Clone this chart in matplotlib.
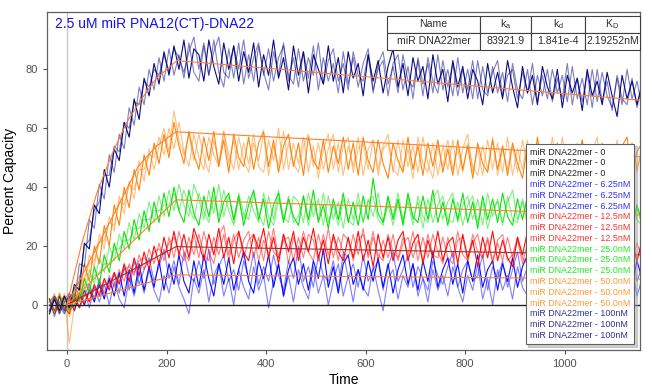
"""
Sensorgram of miR DNA22mer binding to 2.5 uM miR PNA12(C'T)-DNA22
"""

import numpy as np
import matplotlib.pyplot as plt
from matplotlib.lines import Line2D

plt.rcParams['font.family'] = ['Liberation Sans', 'DejaVu Sans']
plt.rcParams['mathtext.fontset'] = 'custom'
plt.rcParams['mathtext.rm'] = 'Liberation Sans'
plt.rcParams['mathtext.it'] = 'Liberation Sans'

# sampling times of the traces (s)
time = np.arange(-35, 1156, 10)

# 100nM replicates
conc_100_a = [-3, 2, -2, 3, -1, 7, 5, 21, 19, 34,
              31, 46, 40, 53, 49, 62, 57, 70, 63, 77,
              71, 82, 75, 86, 78, 88, 80, 90, 77, 87,
              85, 76, 90, 81, 75, 89, 80, 88, 76, 86,
              79, 89, 74, 85, 78, 90, 77, 84, 73, 88,
              78, 86, 72, 85, 80, 75, 88, 76, 84, 72,
              86, 77, 82, 71, 85, 76, 83, 72, 81, 87,
              74, 82, 71, 84, 76, 81, 70, 85, 75, 80,
              69, 83, 74, 81, 70, 80, 76, 68, 82, 72,
              79, 70, 83, 74, 67, 81, 72, 78, 68, 81,
              74, 70, 80, 67, 78, 72, 77, 66, 80, 71,
              76, 68, 79, 71, 64, 78, 70, 76, 68, 75]
conc_100_b = [2, -4, 3, -2, 4, 1, 14, 13, 29, 26,
              41, 36, 51, 45, 58, 53, 67, 61, 74, 68,
              80, 73, 84, 76, 87, 78, 85, 77, 89, 79,
              76, 88, 78, 90, 79, 74, 87, 77, 89, 75,
              85, 76, 88, 79, 73, 86, 78, 89, 76, 84,
              74, 86, 77, 88, 73, 84, 76, 82, 72, 86,
              75, 84, 74, 82, 87, 73, 80, 83, 71, 82,
              85, 73, 81, 70, 84, 75, 82, 72, 85, 73,
              80, 71, 84, 72, 80, 70, 83, 73, 71, 81,
              72, 79, 69, 82, 73, 70, 80, 68, 78, 71,
              80, 69, 77, 70, 82, 68, 77, 69, 79, 67,
              80, 69, 76, 66, 78, 70, 68, 77, 67, 75]
conc_100_c = [-2, 3, 0, -3, 2, 5, 8, 20, 22, 32,
              35, 44, 44, 54, 52, 62, 60, 69, 68, 76,
              74, 80, 78, 85, 79, 87, 84, 79, 86, 91,
              80, 89, 78, 86, 91, 79, 77, 88, 80, 90,
              77, 84, 89, 78, 87, 76, 84, 88, 78, 75,
              87, 76, 84, 78, 89, 75, 83, 87, 76, 82,
              73, 86, 78, 76, 85, 72, 82, 86, 75, 81,
              72, 85, 76, 74, 83, 71, 84, 76, 72, 83,
              74, 82, 71, 80, 73, 83, 70, 81, 72, 79,
              83, 71, 78, 80, 70, 79, 72, 82, 69, 78,
              70, 80, 72, 78, 69, 81, 70, 77, 68, 80,
              69, 79, 71, 67, 77, 68, 80, 70, 76, 67]

# 50nM replicates
conc_50_a = [2, -3, 4, -1, -2, 6, 3, 14, 8, 20,
             14, 27, 20, 34, 27, 40, 33, 46, 39, 51,
             44, 55, 48, 58, 50, 62, 54, 48, 59, 51,
             46, 57, 49, 59, 47, 56, 45, 58, 50, 47,
             57, 46, 55, 59, 47, 56, 45, 54, 58, 47,
             55, 44, 57, 49, 46, 56, 45, 54, 48, 57,
             46, 55, 44, 57, 49, 45, 56, 48, 43, 55,
             49, 45, 57, 46, 54, 44, 55, 47, 56, 45,
             53, 44, 56, 46, 54, 43, 55, 48, 45, 56,
             46, 54, 44, 55, 48, 43, 54, 45, 57, 46,
             53, 44, 55, 46, 43, 54, 47, 56, 45, 53,
             44, 55, 46, 53, 43, 54, 57, 45, 52, 55]
conc_50_b = [-3, 3, -1, 4, -4, 3, 10, 6, 17, 13,
             24, 19, 30, 25, 37, 31, 42, 36, 49, 42,
             53, 46, 54, 60, 52, 66, 56, 51, 58, 49,
             58, 50, 45, 56, 48, 59, 51, 46, 57, 49,
             45, 55, 49, 58, 44, 54, 47, 59, 46, 55,
             48, 57, 45, 54, 43, 53, 58, 46, 55, 44,
             54, 47, 57, 44, 53, 56, 46, 54, 58, 45,
             56, 46, 53, 43, 57, 48, 45, 55, 44, 54,
             46, 56, 44, 53, 58, 45, 53, 44, 56, 46,
             55, 45, 57, 44, 53, 46, 56, 43, 53, 48,
             45, 57, 46, 54, 44, 53, 45, 56, 43, 52,
             57, 45, 53, 44, 56, 47, 43, 55, 46, 53]
conc_50_c = [1, 4, -3, 2, -13, 0, 7, 9, 14, 15,
             21, 22, 28, 27, 35, 34, 41, 39, 46, 46,
             51, 50, 57, 51, 60, 53, 62, 52, 47, 58,
             50, 46, 57, 51, 47, 59, 48, 56, 46, 55,
             48, 58, 47, 45, 56, 49, 60, 46, 55, 48,
             45, 54, 58, 47, 55, 46, 53, 58, 45, 54,
             57, 45, 53, 55, 46, 56, 44, 53, 55, 46,
             44, 56, 47, 54, 45, 57, 48, 43, 54, 47,
             56, 46, 53, 45, 55, 47, 44, 54, 46, 57,
             44, 53, 46, 54, 45, 56, 47, 44, 55, 45,
             54, 47, 44, 57, 46, 45, 55, 44, 54, 46,
             52, 43, 54, 46, 53, 44, 52, 55, 45, 54]

# 25nM replicates
conc_25_a = [2, -3, 1, 3, -2, 4, 1, 9, 4, 13,
             7, 17, 11, 21, 15, 25, 19, 29, 22, 32,
             25, 35, 28, 38, 30, 40, 32, 28, 39, 31,
             27, 37, 30, 40, 28, 35, 38, 29, 37, 27,
             34, 39, 29, 36, 26, 34, 38, 28, 36, 30,
             27, 37, 29, 39, 28, 34, 26, 36, 29, 38,
             28, 35, 27, 37, 29, 43, 31, 28, 37, 29,
             36, 27, 38, 30, 28, 37, 29, 39, 28, 35,
             27, 36, 29, 38, 28, 35, 26, 37, 29, 36,
             28, 38, 30, 27, 36, 29, 37, 26, 35, 28,
             36, 27, 34, 38, 28, 35, 26, 36, 29, 35,
             27, 37, 29, 26, 35, 28, 36, 27, 34, 28]
conc_25_b = [-2, 2, 3, -3, 2, -1, 7, 3, 12, 7,
             16, 11, 20, 15, 24, 19, 28, 22, 31, 26,
             35, 28, 37, 30, 39, 32, 41, 34, 30, 41,
             36, 29, 39, 31, 41, 30, 37, 28, 38, 31,
             29, 38, 31, 27, 37, 29, 39, 30, 28, 37,
             35, 28, 38, 30, 36, 27, 37, 29, 35, 26,
             36, 29, 38, 28, 35, 37, 29, 27, 36, 30,
             38, 29, 35, 27, 37, 30, 28, 36, 39, 29,
             35, 38, 28, 34, 37, 29, 36, 27, 38, 30,
             36, 28, 35, 39, 29, 35, 27, 37, 30, 28,
             29, 37, 28, 35, 27, 37, 30, 28, 36, 26,
             35, 29, 37, 28, 34, 36, 27, 35, 29, 27]
conc_25_c = [1, 3, -2, 2, -1, 3, 2, 7, 7, 10,
             11, 14, 14, 19, 19, 22, 22, 26, 26, 29,
             29, 32, 32, 34, 34, 38, 32, 39, 33, 29,
             38, 32, 28, 37, 30, 39, 32, 27, 36, 29,
             37, 32, 28, 38, 30, 27, 36, 29, 37, 28,
             30, 37, 27, 35, 29, 38, 28, 34, 27, 36,
             29, 27, 35, 28, 36, 30, 38, 28, 34, 27,
             35, 28, 37, 29, 35, 26, 36, 28, 34, 37,
             29, 28, 35, 27, 34, 37, 28, 35, 26, 33,
             35, 27, 37, 29, 28, 36, 29, 34, 27, 36,
             28, 34, 26, 36, 29, 27, 35, 28, 34, 27,
             33, 27, 35, 28, 26, 34, 28, 25, 33, 27]

# 12.5nM replicates
conc_12_a = [2, -2, 3, -1, -3, 3, -1, 5, 1, 7,
             3, 9, 5, 11, 7, 14, 8, 16, 10, 18,
             12, 20, 14, 23, 16, 25, 17, 24, 16, 26,
             21, 15, 24, 17, 26, 16, 23, 14, 25, 18,
             15, 24, 19, 26, 16, 23, 14, 24, 18, 25,
             15, 23, 18, 26, 16, 22, 14, 24, 18, 15,
             23, 16, 25, 15, 22, 13, 24, 16, 23, 15,
             22, 25, 15, 21, 24, 14, 22, 16, 25, 15,
             21, 23, 14, 24, 16, 22, 13, 23, 16, 25,
             15, 22, 16, 13, 23, 17, 25, 15, 22, 14,
             24, 16, 22, 14, 23, 15, 21, 24, 14, 22,
             16, 13, 23, 15, 21, 24, 14, 21, 15, 22]
conc_12_b = [-2, 3, -1, 2, 4, -2, 4, 0, 6, 2,
             8, 4, 10, 6, 12, 8, 14, 10, 17, 12,
             19, 14, 21, 15, 23, 16, 25, 18, 15, 24,
             16, 25, 18, 14, 23, 27, 17, 24, 16, 22,
             25, 16, 23, 15, 25, 18, 16, 24, 14, 23,
             17, 25, 18, 15, 24, 17, 26, 16, 23, 18,
             16, 24, 17, 26, 16, 23, 17, 15, 24, 18,
             16, 23, 17, 25, 15, 23, 16, 24, 18, 14,
             23, 16, 25, 17, 15, 24, 18, 16, 23, 15,
             22, 24, 15, 17, 23, 16, 14, 24, 17, 23,
             15, 22, 25, 16, 21, 14, 23, 16, 22, 15,
             22, 16, 24, 17, 14, 22, 16, 23, 15, 21]
conc_12_c = [0, 2, -3, 3, -1, 2, 3, 1, 4, 6,
             4, 8, 6, 10, 8, 12, 13, 11, 15, 16,
             14, 18, 19, 17, 21, 23, 18, 15, 23, 17,
             24, 17, 15, 23, 17, 24, 15, 22, 25, 16,
             22, 24, 15, 22, 17, 26, 16, 22, 23, 15,
             23, 16, 24, 22, 15, 24, 17, 23, 15, 24,
             22, 15, 22, 24, 17, 25, 15, 22, 16, 24,
             15, 21, 23, 16, 22, 15, 24, 17, 16, 23,
             16, 14, 22, 23, 15, 21, 24, 16, 22, 14,
             21, 15, 23, 16, 22, 14, 21, 23, 15, 20,
             23, 17, 15, 22, 16, 24, 15, 21, 23, 16,
             14, 21, 16, 22, 15, 21, 23, 15, 21, 16]

# 6.25nM replicates
conc_6_a = [-2, 2, -3, 1, 3, -2, 4, 0, 5, 1,
            7, 2, 9, 3, 11, 3, 12, 4, 14, 5,
            13, 6, 15, 5, 14, 7, 17, 8, 4, 15,
            6, 17, 9, 3, 14, 7, 16, 5, 12, 18,
            8, 4, 15, 9, 17, 6, 14, 3, 12, 16,
            7, 14, 5, 15, 9, 19, 6, 13, 4, 14,
            17, 7, 12, 5, 15, 8, 16, 6, 14, 4,
            12, 17, 7, 14, 5, 15, 8, 18, 6, 12,
            16, 7, 14, 4, 15, 8, 17, 6, 12, 15,
            5, 14, 8, 16, 6, 13, 17, 7, 14, 4,
            15, 8, 6, 16, 10, 5, 14, 17, 7, 12,
            15, 6, 14, 8, 16, 5, 12, 7, 15, 9]
conc_6_b = [2, -3, 0, 3, -2, 0, 2, 5, -1, 6,
            1, 7, 0, 8, 2, -1, 9, 3, 11, 4,
            12, 5, 1, 10, 4, 13, 6, 2, -3, 9,
            4, 12, 1, 10, 14, 3, 9, 0, 12, 6,
            2, 13, 5, 10, -1, 8, 14, 3, 10, 1,
            12, 6, 2, 13, 4, 10, 0, 8, 14, 3,
            10, 1, 12, 6, 3, 13, 5, -2, 9, 12,
            2, 10, 6, 14, 3, 9, 1, 12, 5, 10,
            3, 13, 6, 1, 10, 5, 14, 2, 9, 0,
            12, 5, 10, 2, 13, 6, 3, 10, 1, 9,
            13, 3, 9, 5, 12, 2, 10, 6, 14, 3,
            9, 2, 12, 5, 1, 10, 6, 13, 3, 9]
conc_6_c = [1, 3, 0, -2, 2, 4, -1, 3, 7, 2,
            9, 3, 7, 11, 4, 13, 5, 15, 7, 12,
            16, 8, 13, 19, 9, 15, 7, 18, 10, 8,
            15, 9, 19, 7, 13, 17, 8, 12, 5, 15,
            9, 18, 7, 13, 8, 17, 10, 5, 15, 9,
            20, 8, 13, 6, 17, 10, 8, 15, 5, 18,
            9, 14, 6, 17, 8, 12, 15, 5, 13, 18,
            8, 12, 17, 6, 13, 9, 5, 15, 10, 7,
            13, 18, 6, 12, 15, 8, 10, 17, 5, 13,
            9, 15, 6, 12, 18, 8, 13, 9, 17, 6,
            12, 8, 15, 18, 6, 13, 9, 5, 15, 10,
            8, 17, 9, 13, 6, 15, 10, 18, 8, 13]

# 0 concentration (flat at zero)
conc_0_time = [-35, 1155]
conc_0 = [0, 0]

# fitted curves (association to ~220 s, then dissociation)
fit_100_time = [0, 30, 60, 90, 120, 150, 180, 221, 1155]
fit_100 = [0, 21, 38, 51, 62, 70, 77, 83, 69.5]
fit_50_time = [0, 107, 143, 180, 219, 1155]
fit_50 = [0, 35, 47, 54, 58.8, 50.3]
fit_25_time = [0, 219, 1155]
fit_25 = [0, 35.7, 30.5]
fit_12_time = [0, 219, 1155]
fit_12 = [0, 19.8, 17.0]
fit_6_time = [0, 219, 1155]
fit_6 = [0, 10.2, 8.8]

# kinetics table
table_header = ["Name", "k$_a$", "k$_d$", "K$_D$"]
table_row = ["miR DNA22mer", "83921.9", "1.841e-4", "2.19252nM"]

legend_labels = ["miR DNA22mer - 0"] * 3 + ["miR DNA22mer - 6.25nM"] * 3 + \
                ["miR DNA22mer - 12.5nM"] * 3 + ["miR DNA22mer - 25.0nM"] * 3 + \
                ["miR DNA22mer - 50.0nM"] * 3 + ["miR DNA22mer - 100nM"] * 3
legend_colors = ["#202020"] * 3 + ["#3030FF"] * 3 + ["#FF3030"] * 3 + \
                ["#20EE20"] * 3 + ["#FF9A30"] * 3 + ["#303090"] * 3

fig = plt.figure(figsize=(6.52, 3.91), dpi=100)
ax = fig.add_axes([0.0721, 0.1049, 0.9095, 0.8645])

# vertical marker at injection
ax.axvline(0, color="#C8C8C8", lw=1, zorder=1)

groups = [
    ("#0000FF", [conc_6_a, conc_6_b, conc_6_c]),
    ("#FF0000", [conc_12_a, conc_12_b, conc_12_c]),
    ("#00E000", [conc_25_a, conc_25_b, conc_25_c]),
    ("#FF8000", [conc_50_a, conc_50_b, conc_50_c]),
    ("#000080", [conc_100_a, conc_100_b, conc_100_c]),
]
for color, reps in groups:
    ax.plot(time, reps[1], color=color, lw=0.8, alpha=0.5, zorder=2)
    ax.plot(time, reps[2], color=color, lw=0.8, alpha=0.5, zorder=2)
    ax.plot(time, reps[0], color=color, lw=0.8, alpha=0.95, zorder=2)

ax.plot(conc_0_time, conc_0, color="#202020", lw=1, zorder=3)

# fits
fit_color = "#FF7F2A"
ax.plot(fit_100_time, fit_100, color=fit_color, lw=0.8, zorder=4)
ax.plot(fit_50_time, fit_50, color=fit_color, lw=0.8, zorder=4)
ax.plot(fit_25_time, fit_25, color=fit_color, lw=0.8, zorder=4)
ax.plot(fit_12_time, fit_12, color="#A03030", lw=0.8, zorder=4)
ax.plot(fit_6_time, fit_6, color=fit_color, lw=0.8, zorder=4)

ax.set_xlim(-40, 1151)
ax.set_ylim(-15.3, 99.5)
ax.set_xticks([0, 200, 400, 600, 800, 1000])
ax.set_yticks([0, 20, 40, 60, 80])
ax.tick_params(colors="#505050", labelsize=8, length=3, width=0.8)
for s in ax.spines.values():
    s.set_color("#606060")
    s.set_linewidth(0.9)

ax.set_xlabel("Time", fontsize=10, labelpad=3)
ax.set_ylabel("Percent Capacity", fontsize=10, labelpad=6)

ax.text(0.013, 0.985, "2.5 uM miR PNA12(C'T)-DNA22", transform=ax.transAxes,
        color="#1010F0", fontsize=10, va="top", ha="left", zorder=6)

# kinetics table
tbl = ax.table(cellText=[table_header, table_row], cellLoc="center",
               colWidths=[93, 51, 54, 55], bbox=[0.5734, 0.888, 0.4266, 0.100])
tbl.auto_set_font_size(False)
tbl.set_fontsize(7.6)
tbl.set_zorder(10)
for cell in tbl.get_celld().values():
    cell.set_edgecolor("#404040")
    cell.set_linewidth(0.8)
    cell.set_facecolor("white")
    cell.get_text().set_color("#303030")

# legend with coloured text only
handles = [Line2D([], [], linestyle="none") for _ in legend_labels]
leg = ax.legend(handles, legend_labels, loc="lower right", bbox_to_anchor=(0.99, 0.018),
                fontsize=6.4, handlelength=0, handletextpad=0, labelspacing=0.2,
                borderpad=0.45, borderaxespad=0, frameon=True, fancybox=False,
                shadow={"ox": 2, "oy": -2, "color": "#A0A0A0"})
leg.get_frame().set_edgecolor("#606060")
leg.get_frame().set_linewidth(0.8)
leg.set_zorder(11)
for txt, c in zip(leg.get_texts(), legend_colors):
    txt.set_color(c)

fig.savefig("out.png", dpi=100)
